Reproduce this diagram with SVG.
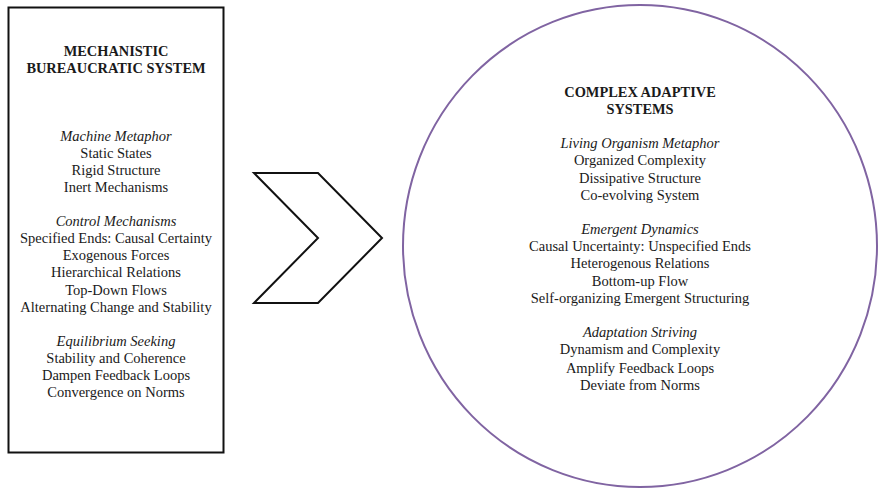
<svg xmlns="http://www.w3.org/2000/svg" width="879" height="489" viewBox="0 0 879 489">
<style>
text{font-family:"Liberation Serif","Times New Roman",serif;font-size:14.5px;fill:#1a1a1a;text-anchor:middle}
.t{font-weight:bold;font-size:14.4px}
.h{font-style:italic}
</style>
<rect width="879" height="489" fill="#fff"/>
<g id="mechanistic">
<rect x="8.5" y="7.5" width="215" height="445" fill="none" stroke="#111" stroke-width="2"/>
<text class="t" x="116" y="56">MECHANISTIC</text>
<text class="t" x="116" y="73">BUREAUCRATIC SYSTEM</text>
<text class="h" x="116" y="141">Machine Metaphor</text>
<text x="116" y="158">Static States</text>
<text x="116" y="175">Rigid Structure</text>
<text x="116" y="192">Inert Mechanisms</text>
<text class="h" x="116" y="226">Control Mechanisms</text>
<text x="116" y="243">Specified Ends: Causal Certainty</text>
<text x="116" y="260">Exogenous Forces</text>
<text x="116" y="277">Hierarchical Relations</text>
<text x="116" y="295">Top-Down Flows</text>
<text x="116" y="312">Alternating Change and Stability</text>
<text class="h" x="116" y="346">Equilibrium Seeking</text>
<text x="116" y="363">Stability and Coherence</text>
<text x="116" y="380">Dampen Feedback Loops</text>
<text x="116" y="397">Convergence on Norms</text>
</g>
<g id="connectors">
<polygon points="254,173 318,173 382,238 318,303 254,303 318,238" fill="#fff" stroke="#111" stroke-width="2" stroke-linejoin="miter"/>
</g>
<g id="complex">
<ellipse cx="640" cy="246" rx="237" ry="241" fill="#fff" stroke="#8064a2" stroke-width="2"/>
<text class="t" x="640" y="97">COMPLEX ADAPTIVE</text>
<text class="t" x="640" y="114">SYSTEMS</text>
<text class="h" x="640" y="148">Living Organism Metaphor</text>
<text x="640" y="165">Organized Complexity</text>
<text x="640" y="183">Dissipative Structure</text>
<text x="640" y="200">Co-evolving System</text>
<text class="h" x="640" y="234">Emergent Dynamics</text>
<text x="640" y="251">Causal Uncertainty: Unspecified Ends</text>
<text x="640" y="268">Heterogenous Relations</text>
<text x="640" y="286">Bottom-up Flow</text>
<text x="640" y="303">Self-organizing Emergent Structuring</text>
<text class="h" x="640" y="337">Adaptation Striving</text>
<text x="640" y="354">Dynamism and Complexity</text>
<text x="640" y="373">Amplify Feedback Loops</text>
<text x="640" y="390">Deviate from Norms</text>
</g>
</svg>
